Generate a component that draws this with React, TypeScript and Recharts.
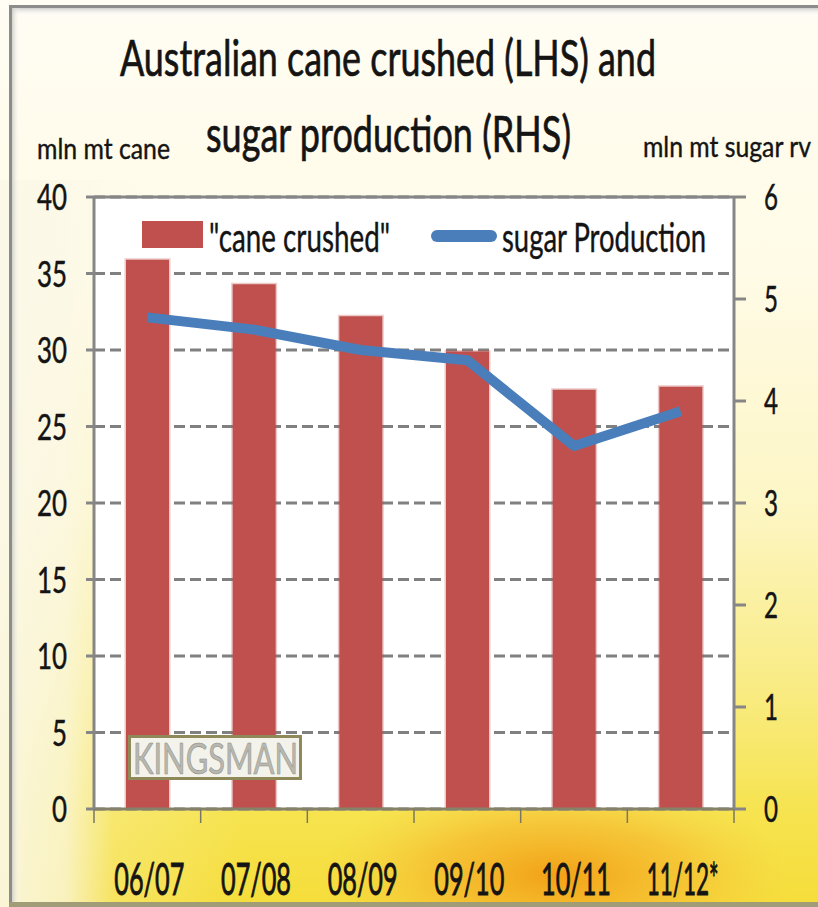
import React from 'react';
import { ComposedChart, Bar, Line, XAxis, YAxis, CartesianGrid, ReferenceLine } from 'recharts';

const categories = ['06/07', '07/08', '08/09', '09/10', '10/11', '11/12*'];
const caneCrushed = [35.9, 34.3, 32.2, 29.9, 27.4, 27.6];
const sugarProduction = [4.82, 4.7, 4.5, 4.4, 3.56, 3.9];
const leftTicks = [0, 5, 10, 15, 20, 25, 30, 35, 40];
const rightTicks = [0, 1, 2, 3, 4, 5, 6];

const titleLines = ['Australian cane crushed (LHS) and', 'sugar production (RHS)'];
const leftAxisTitle = 'mln mt cane';
const rightAxisTitle = 'mln mt sugar rv';
const legendCane = '"cane crushed"';
const legendSugar = 'sugar Production';
const watermark = 'KINGSMAN';

const data = categories.map((c, i) => ({ category: c, cane: caneCrushed[i], sugar: sugarProduction[i] }));

const FONT = 'Lato, "Open Sans", "Noto Sans", sans-serif';
const BAR_COLOR = '#C0504D';
const LINE_COLOR = '#4A7EBB';
const AXIS_COLOR = '#868686';
const TEXT_COLOR = '#141414';

const LeftTick = (props: any) => {
  const { x, y, payload } = props;
  const s = String(payload.value);
  return (
    <text x={x} y={y + 13} textAnchor="end" fontFamily={FONT} fontSize={36} fill={TEXT_COLOR}
      stroke={TEXT_COLOR} strokeWidth={0.5}
      textLength={15 * s.length} lengthAdjust="spacingAndGlyphs">{s}</text>
  );
};

const RightTick = (props: any) => {
  const { x, y, payload } = props;
  const s = String(payload.value);
  return (
    <text x={x} y={y + 13} textAnchor="start" fontFamily={FONT} fontSize={36} fill={TEXT_COLOR}
      stroke={TEXT_COLOR} strokeWidth={0.5}
      textLength={14 * s.length} lengthAdjust="spacingAndGlyphs">{s}</text>
  );
};

// Category label plus the Excel-style tick marks on the category boundaries
const CatTick = (props: any) => {
  const { x, y, payload, index, width, visibleTicksCount } = props;
  const s = String(payload.value);
  const band = Number(width) / Number(visibleTicksCount);
  const ok = Number.isFinite(band);
  return (
    <g>
      {ok && index === 0 && (
        <line x1={x - band / 2} y1={y} x2={x - band / 2} y2={y + 14} stroke="#7a7766" strokeWidth={1.5} />
      )}
      {ok && (
        <line x1={x + band / 2} y1={y} x2={x + band / 2} y2={y + 14} stroke="#7a7766" strokeWidth={1.5} />
      )}
      <text x={x + 2} y={y + 86} textAnchor="middle" fontFamily={FONT} fontSize={44} fill={TEXT_COLOR}
        stroke={TEXT_COLOR} strokeWidth={0.9}
        textLength={s.length > 5 ? 72 : 70} lengthAdjust="spacingAndGlyphs">{s}</text>
    </g>
  );
};

const Background = () => (
  <svg width={818} height={907} style={{ position: 'absolute', left: 0, top: 0 }}>
    <defs>
      <linearGradient id="bgV" x1="0" y1="0" x2="0" y2="1">
        <stop offset="0" stopColor="#fffdf4" />
        <stop offset="0.3" stopColor="#fffbe6" />
        <stop offset="0.55" stopColor="#fdf6c6" />
        <stop offset="0.75" stopColor="#f9ec86" />
        <stop offset="0.9" stopColor="#f6e34e" />
        <stop offset="1" stopColor="#f5dd3a" />
      </linearGradient>
      <linearGradient id="bgH" x1="0" y1="0" x2="1" y2="0">
        <stop offset="0" stopColor="#fbf8e8" stopOpacity="0.9" />
        <stop offset="0.08" stopColor="#fbf8e8" stopOpacity="0.75" />
        <stop offset="0.14" stopColor="#fbf8e8" stopOpacity="0.2" />
        <stop offset="0.3" stopColor="#ffffff" stopOpacity="0" />
        <stop offset="1" stopColor="#ffffff" stopOpacity="0" />
      </linearGradient>
      <radialGradient id="glow" cx="0.5" cy="0.5" r="0.5">
        <stop offset="0" stopColor="#f29a12" stopOpacity="0.9" />
        <stop offset="0.55" stopColor="#f5b02a" stopOpacity="0.55" />
        <stop offset="1" stopColor="#f8c840" stopOpacity="0" />
      </radialGradient>
      <linearGradient id="topShade" x1="0" y1="0" x2="0" y2="1">
        <stop offset="0" stopColor="#cfcfcf" />
        <stop offset="1" stopColor="#ffffff" stopOpacity="0" />
      </linearGradient>
      <linearGradient id="leftShade" x1="0" y1="0" x2="1" y2="0">
        <stop offset="0" stopColor="#c8c8c0" stopOpacity="0.8" />
        <stop offset="1" stopColor="#ffffff" stopOpacity="0" />
      </linearGradient>
    </defs>
    <rect x={0} y={0} width={818} height={907} fill="url(#bgV)" />
    <rect x={0} y={180} width={818} height={727} fill="url(#bgH)" />
    <ellipse cx={555} cy={875} rx={235} ry={95} fill="url(#glow)" />
    <rect x={12} y={8} width={806} height={8} fill="url(#topShade)" />
    <rect x={12} y={8} width={8} height={894} fill="url(#leftShade)" />
    <rect x={9} y={5} width={809} height={3} fill="#8c8c8c" />
    <rect x={9} y={5} width={3} height={902} fill="#8c8c8c" />
    <rect x={9} y={902} width={809} height={5} fill="#a09c78" />
  </svg>
);

const Overlay = () => (
  <svg width={818} height={907} style={{ position: 'absolute', left: 0, top: 0, pointerEvents: 'none' }}>
    <text x={120} y={76} fontFamily={FONT} fontSize={50} fill={TEXT_COLOR} stroke={TEXT_COLOR} strokeWidth={0.7} textLength={536} lengthAdjust="spacingAndGlyphs">{titleLines[0]}</text>
    <text x={206} y={152} fontFamily={FONT} fontSize={50} fill={TEXT_COLOR} stroke={TEXT_COLOR} strokeWidth={0.7} textLength={365} lengthAdjust="spacingAndGlyphs">{titleLines[1]}</text>
    <text x={37} y={159} fontFamily={FONT} fontSize={28} fill={TEXT_COLOR} stroke={TEXT_COLOR} strokeWidth={0.4} textLength={133} lengthAdjust="spacingAndGlyphs">{leftAxisTitle}</text>
    <text x={643} y={157} fontFamily={FONT} fontSize={28} fill={TEXT_COLOR} stroke={TEXT_COLOR} strokeWidth={0.4} textLength={168} lengthAdjust="spacingAndGlyphs">{rightAxisTitle}</text>
    <rect x={142} y={221} width={61} height={27} fill={BAR_COLOR} />
    <text x={209} y={252} fontFamily={FONT} fontSize={40} fill={TEXT_COLOR} stroke={TEXT_COLOR} strokeWidth={0.4} textLength={181} lengthAdjust="spacingAndGlyphs">{legendCane}</text>
    <line x1={437} y1={236} x2={491} y2={236} stroke={LINE_COLOR} strokeWidth={12} strokeLinecap="round" />
    <text x={502} y={252} fontFamily={FONT} fontSize={40} fill={TEXT_COLOR} stroke={TEXT_COLOR} strokeWidth={0.4} textLength={204} lengthAdjust="spacingAndGlyphs">{legendSugar}</text>
    <rect x={129.5} y={736.5} width={171} height={42} fill="#f3f3ec" stroke="#8f895a" strokeWidth={3} />
    <text x={133} y={774} fontFamily={FONT} fontSize={42} fill="#b8b8b0" stroke="#8e8e86" strokeWidth={0.6} textLength={165} lengthAdjust="spacingAndGlyphs">{watermark}</text>
  </svg>
);

export default function App() {
  return (
    <div style={{ position: 'absolute', left: 0, top: 0, width: 818, height: 907, overflow: 'hidden' }}>
      <Background />
      <div style={{ position: 'absolute', left: 0, top: 0 }}>
        <ComposedChart width={818} height={907} data={data} margin={{ top: 197, right: 0, bottom: 0, left: 0 }}>
          <CartesianGrid yAxisId="left" vertical={false} stroke="#808080" strokeWidth={3}
            strokeDasharray="11 5" fill="#ffffff" fillOpacity={1} />
          <XAxis dataKey="category" height={98} tickSize={0} tickMargin={0} interval={0}
            axisLine={{ stroke: '#86826a', strokeWidth: 3 }} tickLine={false} tick={<CatTick />} />
          <YAxis yAxisId="left" domain={[0, 40]} ticks={leftTicks} width={94} tickSize={8} tickMargin={19} interval={0}
            axisLine={{ stroke: AXIS_COLOR, strokeWidth: 3 }} tickLine={{ stroke: AXIS_COLOR, strokeWidth: 3 }}
            tick={<LeftTick />} allowDataOverflow />
          <YAxis yAxisId="right" orientation="right" domain={[0, 6]} ticks={rightTicks} width={84} tickSize={12} tickMargin={18}
            interval={0} axisLine={{ stroke: AXIS_COLOR, strokeWidth: 3 }} tickLine={{ stroke: AXIS_COLOR, strokeWidth: 3 }}
            tick={<RightTick />} allowDataOverflow />
          <ReferenceLine yAxisId="left" y={40} stroke={AXIS_COLOR} strokeWidth={3} ifOverflow="visible" />
          <Bar yAxisId="left" dataKey="cane" fill={BAR_COLOR} barSize={43}
            stroke="rgba(192,80,77,0.3)" strokeWidth={3} isAnimationActive={false} />
          <Line yAxisId="right" dataKey="sugar" type="linear" stroke={LINE_COLOR} strokeWidth={10}
            dot={false} activeDot={false} strokeLinejoin="round" isAnimationActive={false} />
        </ComposedChart>
      </div>
      <Overlay />
    </div>
  );
}
